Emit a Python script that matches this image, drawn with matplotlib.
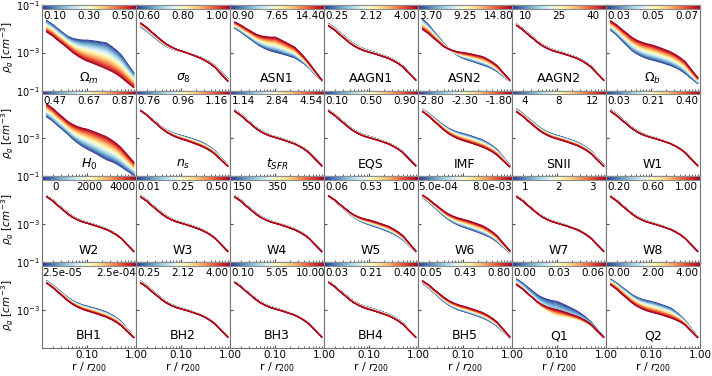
import numpy as np
import matplotlib
matplotlib.use("Agg")
import matplotlib.pyplot as plt
from matplotlib.ticker import FormatStrFormatter, NullFormatter, NullLocator

# fiducial gas density profile (log10 rho_g)
r_fid = [0.015, 0.02, 0.025, 0.032, 0.04, 0.05, 0.063, 0.08, 0.1, 0.13, 0.16, 0.2,
         0.25, 0.32, 0.4, 0.5, 0.63, 0.75, 0.9]
logrho_fid = [-1.84, -2.02, -2.2, -2.38, -2.55, -2.69, -2.8, -2.89, -2.95, -3.02, -3.08,
              -3.15, -3.22, -3.33, -3.45, -3.6, -3.82, -3.98, -4.15]

r_knots = [0.016, 0.04, 0.1, 0.25, 0.5, 0.9]

names = [r"$\Omega_m$", r"$\sigma_8$", "ASN1", "AAGN1", "ASN2", "AAGN2", r"$\Omega_b$",
         r"$H_0$", r"$n_s$", r"$t_{SFR}$", "EQS", "IMF", "SNII", "W1",
         "W2", "W3", "W4", "W5", "W6", "W7", "W8",
         "BH1", "BH2", "BH3", "BH4", "BH5", "Q1", "Q2"]

cbar_labels = [
    ["0.10", "0.30", "0.50"], ["0.60", "0.80", "1.00"], ["0.90", "7.65", "14.40"],
    ["0.25", "2.12", "4.00"], ["3.70", "9.25", "14.80"], ["10", "25", "40"],
    ["0.03", "0.05", "0.07"],
    ["0.47", "0.67", "0.87"], ["0.76", "0.96", "1.16"], ["1.14", "2.84", "4.54"],
    ["0.10", "0.50", "0.90"], ["-2.80", "-2.30", "-1.80"], ["4", "8", "12"],
    ["0.03", "0.21", "0.40"],
    ["0", "2000", "4000"], ["0.01", "0.25", "0.50"], ["150", "350", "550"],
    ["0.06", "0.53", "1.00"], ["5.0e-04", "8.0e-03"], ["1", "2", "3"],
    ["0.20", "0.60", "1.00"],
    ["2.5e-05", "2.5e-04"], ["0.25", "2.12", "4.00"], ["0.10", "5.05", "10.00"],
    ["0.03", "0.21", "0.40"], ["0.05", "0.43", "0.80"], ["0.00", "0.03", "0.06"],
    ["0.00", "2.00", "4.00"],
]

# offset (dex) from the fiducial of the lowest (blue) and highest (red) parameter value
lo_shift = [
    [0.18, 0.23, 0.47, 0.62, 0.50, 0.30],
    [-0.08, -0.06, 0.00, 0.02, 0.04, 0.05],
    [-0.14, -0.05, -0.03, 0.00, -0.05, -0.05],
    [0.05, 0.05, 0.03, 0.02, 0.02, 0.01],
    [0.25, -0.05, -0.30, -0.30, -0.20, -0.05],
    [0.03, 0.03, 0.02, 0.02, 0.02, 0.01],
    [-0.22, -0.35, -0.35, -0.32, -0.28, -0.15],
    [-0.26, -0.27, -0.50, -0.68, -0.60, -0.40],
    [0.00, 0.03, 0.07, 0.08, 0.06, 0.02],
    [0.03, 0.03, 0.02, 0.02, 0.02, 0.01],
    [0.02, 0.03, 0.03, 0.02, 0.02, 0.01],
    [0.05, 0.10, 0.15, 0.15, 0.12, 0.03],
    [0.06, 0.07, 0.07, 0.07, 0.06, 0.03],
    [0.04, 0.03, 0.02, 0.01, 0.01, 0.00],
    [0.02, 0.03, 0.02, 0.02, 0.01, 0.00],
    [0.03, 0.03, 0.02, 0.02, 0.01, 0.00],
    [0.03, 0.03, 0.02, 0.02, 0.02, 0.01],
    [0.00, -0.03, -0.08, -0.10, -0.08, -0.02],
    [-0.05, -0.10, -0.18, -0.20, -0.15, -0.05],
    [0.02, 0.02, 0.02, 0.01, 0.01, 0.00],
    [0.02, 0.02, 0.02, 0.01, 0.01, 0.00],
    [0.05, 0.07, 0.10, 0.12, 0.10, 0.02],
    [0.04, 0.03, 0.02, 0.01, 0.01, 0.00],
    [0.02, 0.02, 0.02, 0.01, 0.01, 0.00],
    [0.02, 0.03, 0.04, 0.04, 0.03, 0.01],
    [-0.05, -0.10, -0.12, -0.12, -0.10, -0.03],
    [0.13, 0.17, 0.30, 0.18, 0.08, 0.00],
    [0.12, 0.20, 0.30, 0.30, 0.15, 0.02],
]
hi_shift = [
    [-0.30, -0.26, -0.41, -0.47, -0.45, -0.33],
    [0.08, 0.06, 0.02, -0.02, -0.04, -0.06],
    [0.12, 0.33, 0.60, 0.45, 0.15, 0.00],
    [-0.05, -0.05, -0.04, -0.03, -0.02, -0.01],
    [-0.20, -0.20, -0.05, 0.05, 0.05, 0.00],
    [-0.03, -0.03, -0.03, -0.02, -0.02, -0.02],
    [0.17, 0.20, 0.28, 0.25, 0.22, 0.10],
    [0.28, 0.26, 0.33, 0.28, 0.20, 0.15],
    [0.00, -0.04, -0.08, -0.10, -0.08, -0.03],
    [-0.03, -0.03, -0.02, -0.02, -0.02, -0.01],
    [-0.03, -0.03, -0.03, -0.02, -0.02, -0.01],
    [-0.05, -0.10, -0.15, -0.15, -0.12, -0.05],
    [-0.06, -0.07, -0.08, -0.08, -0.06, -0.03],
    [-0.04, -0.03, -0.02, -0.01, -0.01, 0.00],
    [-0.02, -0.03, -0.02, -0.02, -0.01, 0.00],
    [-0.03, -0.03, -0.02, -0.02, -0.01, 0.00],
    [-0.03, -0.03, -0.02, -0.02, -0.02, -0.01],
    [0.02, 0.05, 0.12, 0.12, 0.10, 0.02],
    [0.05, 0.10, 0.15, 0.15, 0.10, 0.03],
    [-0.02, -0.02, -0.02, -0.01, -0.01, 0.00],
    [-0.02, -0.02, -0.02, -0.01, -0.01, 0.00],
    [-0.05, -0.07, -0.10, -0.10, -0.08, -0.02],
    [-0.04, -0.03, -0.02, -0.01, -0.01, 0.00],
    [-0.02, -0.02, -0.02, -0.01, -0.01, 0.00],
    [-0.02, -0.03, -0.04, -0.04, -0.03, -0.01],
    [0.05, 0.08, 0.10, 0.10, 0.08, 0.02],
    [-0.12, -0.12, -0.05, -0.05, -0.02, 0.00],
    [-0.12, -0.15, -0.15, -0.12, -0.05, -0.02],
]
# Q1 is not monotonic: the mid-range (yellow) curves sit lowest
q1_mid_shift = [-0.05, -0.17, -0.30, -0.18, -0.08, -0.02]

n_curves = 30
cmap = plt.get_cmap("RdYlBu_r")

fig, axes = plt.subplots(4, 7, figsize=(7.12, 3.76), dpi=100, sharex=True, sharey=True)
fig.subplots_adjust(left=0.059, right=0.983, top=0.987, bottom=0.075, wspace=0, hspace=0)

log_rf = np.log10(r_fid)
log_rk = np.log10(r_knots)
for i, ax in enumerate(axes.flat):
    lo = np.interp(log_rf, log_rk, lo_shift[i])
    hi = np.interp(log_rf, log_rk, hi_shift[i])
    if names[i] == "Q1":
        mid = np.interp(log_rf, log_rk, q1_mid_shift)
    else:
        mid = 0.5 * (lo + hi)
    for k in range(n_curves):
        f = k / (n_curves - 1)
        if f < 0.5:
            d = lo + (mid - lo) * (f / 0.5)
        else:
            d = mid + (hi - mid) * ((f - 0.5) / 0.5)
        ax.plot(r_fid, 10 ** (np.array(logrho_fid) + d), color=cmap(f), lw=0.8)

    # colour bar strip on top of the panel
    cax = ax.inset_axes([0, 0.955, 1, 0.045])
    cax.imshow(np.linspace(0, 1, 256)[None, :], aspect="auto", cmap=cmap, extent=[0, 1, 0, 1])
    cax.set_xticks([])
    cax.set_yticks([])
    for s in cax.spines.values():
        s.set_color("0.55")
        s.set_linewidth(0.8)
    labs = cbar_labels[i]
    xs = [0.14, 0.5, 0.86] if len(labs) == 3 else [0.21, 0.79]
    for x, t in zip(xs, labs):
        ax.text(x, 0.875, t, transform=ax.transAxes, ha="center", va="center", fontsize=7.5)

    ax.text(0.5, 0.14, names[i], transform=ax.transAxes, ha="center", va="center", fontsize=9)

    for s in ax.spines.values():
        s.set_color("0.45")
    ax.tick_params(which="both", direction="in", labelsize=7.5, color="0.3", pad=1.5)
    ax.tick_params(axis="y", labelsize=7)
    ax.tick_params(which="major", length=2.5)
    ax.tick_params(which="minor", length=1.5)

ax0 = axes[0, 0]
ax0.set_xscale("log")
ax0.set_yscale("log")
ax0.set_xlim(0.012, 1.0)
ax0.set_ylim(10 ** -4.6, 1e-1)
ax0.set_xticks([0.1, 1.0])
ax0.xaxis.set_major_formatter(FormatStrFormatter("%.2f"))
ax0.xaxis.set_minor_formatter(NullFormatter())
ax0.set_yticks([1e-3, 1e-1])
ax0.yaxis.set_minor_locator(NullLocator())

for row in range(4):
    axes[row, 0].set_ylabel(r"$\rho_g\ [cm^{-3}]$", fontsize=7.5)
    axes[row, 0].yaxis.set_label_coords(-0.275, 0.5)
for col in range(7):
    axes[3, col].set_xlabel(r"r / $r_{200}$", fontsize=8, labelpad=0)

fig.savefig("out.png", dpi=100)
